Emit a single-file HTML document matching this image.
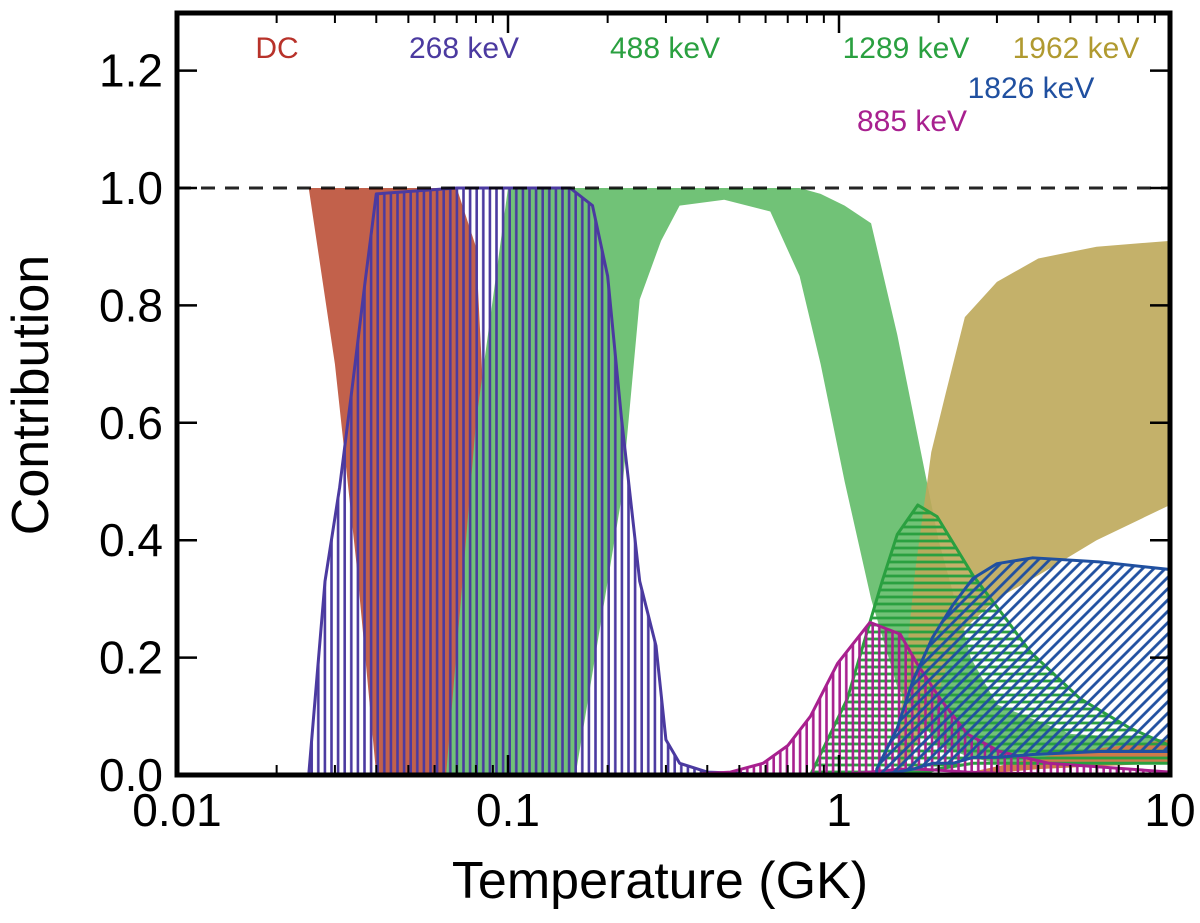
<!DOCTYPE html>
<html><head><meta charset="utf-8"><style>
html,body{margin:0;padding:0;background:#fff;}
svg{display:block;font-family:"Liberation Sans",sans-serif;}
</style></head><body>
<svg id="chart" width="1200" height="923" viewBox="0 0 1200 923">
<defs>
<pattern id="vPurple" patternUnits="userSpaceOnUse" width="6.6" height="10"><line x1="1.5" y1="0" x2="1.5" y2="10" stroke="#4b3aa0" stroke-width="2.6"/></pattern>
<pattern id="vMag" patternUnits="userSpaceOnUse" width="6.6" height="10"><line x1="1.5" y1="0" x2="1.5" y2="10" stroke="#a8208f" stroke-width="2.6"/></pattern>
<pattern id="hGreen" patternUnits="userSpaceOnUse" width="10" height="7"><line x1="0" y1="2" x2="10" y2="2" stroke="#2aa040" stroke-width="2.8"/></pattern>
<pattern id="dBlue" patternUnits="userSpaceOnUse" width="8" height="8" patternTransform="rotate(45)"><line x1="2" y1="0" x2="2" y2="8" stroke="#2050a0" stroke-width="2.8"/></pattern>
</defs>
<g id="marks"></g>
<g id="axes"></g>
</svg>
<script>
// Data arrays (temperature in GK, contribution lower/upper bounds)
const dcT = [0.01, 0.025, 0.03, 0.035, 0.04, 0.07, 0.08, 0.085, 0.09, 0.095];
const dcLo = [1, 1, 0.7, 0.35, 0.0, 0.0, 0.0, 0.0, 0.0, 0.0];
const dcHi = [1, 1, 1, 1, 1, 1, 0.9, 0.6, 0.3, 0.0];

const g488T = [0.065, 0.08, 0.1, 0.16, 0.22, 0.25, 0.29, 0.33, 0.45, 0.62, 0.76, 0.88, 1.04, 1.25, 1.5, 2.0, 2.5, 3.0, 5.0, 10];
const g488Lo = [0, 0, 0, 0, 0.47, 0.81, 0.91, 0.97, 0.98, 0.96, 0.85, 0.7, 0.5, 0.3, 0.15, 0.05, 0.03, 0.02, 0.02, 0.02];
const g488Hi = [0, 0.6, 1, 1, 1, 1, 1, 1, 1, 1, 1, 0.99, 0.97, 0.94, 0.75, 0.4, 0.2, 0.12, 0.07, 0.06];

const p268T = [0.022, 0.025, 0.028, 0.031, 0.034, 0.037, 0.04, 0.07, 0.154, 0.18, 0.2, 0.22, 0.25, 0.28, 0.3, 0.33, 0.4, 0.5, 0.6];
const p268Hi = [0.0, 0.0, 0.33, 0.49, 0.67, 0.84, 0.99, 1.0, 1.0, 0.97, 0.85, 0.61, 0.33, 0.22, 0.06, 0.02, 0.005, 0.003, 0.0];
const p268Lo = [0, 0, 0, 0, 0, 0, 0, 0, 0, 0, 0, 0, 0, 0, 0, 0, 0, 0, 0];

const goldT = [1.5, 1.7, 1.9, 2.1, 2.4, 3.0, 4.0, 6.0, 10];
const goldLo = [0.0, 0.05, 0.1, 0.18, 0.25, 0.3, 0.34, 0.4, 0.46];
const goldHi = [0.05, 0.35, 0.55, 0.65, 0.78, 0.84, 0.88, 0.9, 0.91];

const g1289T = [0.82, 1.06, 1.27, 1.35, 1.5, 1.73, 1.98, 2.54, 3.06, 3.78, 5.35, 7.56, 10];
const g1289Hi = [0.0, 0.13, 0.28, 0.33, 0.41, 0.46, 0.44, 0.34, 0.28, 0.21, 0.13, 0.08, 0.05];
const g1289Lo = [0, 0, 0, 0, 0, 0, 0.01, 0.02, 0.02, 0.02, 0.02, 0.02, 0.02];

const m885T = [0.38, 0.47, 0.59, 0.7, 0.82, 0.99, 1.24, 1.53, 1.72, 2.02, 2.44, 3.06, 4.3, 10];
const m885Hi = [0.002, 0.005, 0.02, 0.05, 0.1, 0.19, 0.26, 0.24, 0.19, 0.13, 0.07, 0.04, 0.02, 0.005];
const m885Lo = [0, 0, 0, 0, 0, 0, 0.005, 0.01, 0.01, 0.008, 0.005, 0.003, 0.002, 0];

const b1826T = [1.3, 1.5, 1.67, 1.92, 2.21, 2.54, 3.0, 3.85, 6.1, 10];
const b1826Hi = [0.01, 0.08, 0.16, 0.235, 0.29, 0.335, 0.36, 0.37, 0.363, 0.35];
const b1826Lo = [0, 0.005, 0.01, 0.02, 0.02, 0.03, 0.03, 0.035, 0.04, 0.04];

const orT = [2.5, 4, 6, 10];
const orLo = [0.0, 0.01, 0.015, 0.02];
const orHi = [0.005, 0.03, 0.045, 0.06];

const yTicks = [0, 0.2, 0.4, 0.6, 0.8, 1.0, 1.2];
const yTickLabels = ["0.0", "0.2", "0.4", "0.6", "0.8", "1.0", "1.2"];
const xTicks = [0.01, 0.1, 1, 10];
const xTickLabels = ["0.01", "0.1", "1", "10"];

const L = 177, R = 1170, T0 = 13, B = 775;
function xs(t) { return L + (R - L) * (Math.log10(t) + 2) / 3; }
function ys(v) { return B - 587 * v; }

const NS = "http://www.w3.org/2000/svg";
const marks = document.getElementById('marks');
const axes = document.getElementById('axes');

function band(ts, lo, hi, fill, stroke, name) {
  let pts = [];
  for (let i = 0; i < ts.length; i++) pts.push(xs(ts[i]) + ',' + ys(hi[i]));
  for (let i = ts.length - 1; i >= 0; i--) pts.push(xs(ts[i]) + ',' + ys(lo[i]));
  const p = document.createElementNS(NS, 'polygon');
  p.setAttribute('points', pts.join(' '));
  p.setAttribute('fill', fill);
  if (stroke) { p.setAttribute('stroke', stroke); p.setAttribute('stroke-width', '3'); p.setAttribute('stroke-linejoin', 'round'); }
  
  
  marks.appendChild(p);
}

band(dcT, dcLo, dcHi, '#c2614b', null, 'dc-band');
band(g488T, g488Lo, g488Hi, '#71c277', null, 'band-488kev');
band(p268T, p268Lo, p268Hi, 'url(#vPurple)', '#4b3aa0', 'band-268kev');
band(goldT, goldLo, goldHi, 'rgba(190,168,90,0.9)', null, 'band-1962kev');
band(orT, orLo, orHi, '#d07a4a', null, 'band-minor-orange');
band(g1289T, g1289Lo, g1289Hi, 'url(#hGreen)', '#2aa040', 'band-1289kev');
band(m885T, m885Lo, m885Hi, 'url(#vMag)', '#a8208f', 'band-885kev');
band(b1826T, b1826Lo, b1826Hi, 'url(#dBlue)', '#2050a0', 'band-1826kev');

function mk(tag, attrs, parent) {
  const e = document.createElementNS(NS, tag);
  for (const k in attrs) e.setAttribute(k, attrs[k]);
  parent.appendChild(e);
  return e;
}
const dl = mk('line', {x1: L, y1: ys(1), x2: R, y2: ys(1), stroke: '#000', 'stroke-width': 3, 'stroke-dasharray': '14,10', opacity: 0.85}, axes);



const fr = mk('rect', {x: L, y: T0, width: R - L, height: B - T0, fill: 'none', stroke: '#000', 'stroke-width': 5}, axes);



for (let i = 0; i < yTicks.length; i++) {
  const y = ys(yTicks[i]);
  mk('line', {x1: L, y1: y, x2: L + 20, y2: y, stroke: '#000', 'stroke-width': 2.5}, axes);
  mk('line', {x1: R - 20, y1: y, x2: R, y2: y, stroke: '#000', 'stroke-width': 2.5}, axes);
  const t = mk('text', {x: 163, y: y + 16, 'text-anchor': 'end', 'font-size': 46, fill: '#000'}, axes);
  t.textContent = yTickLabels[i];
  
  
}
for (let d = 0.01; d < 10; d *= 10) {
  for (let m = 2; m <= 9; m++) {
    const x = xs(d * m);
    mk('line', {x1: x, y1: B, x2: x, y2: B - 10, stroke: '#000', 'stroke-width': 2}, axes);
    mk('line', {x1: x, y1: T0, x2: x, y2: T0 + 10, stroke: '#000', 'stroke-width': 2}, axes);
  }
}
for (let i = 0; i < xTicks.length; i++) {
  const x = xs(xTicks[i]);
  mk('line', {x1: x, y1: B, x2: x, y2: B - 20, stroke: '#000', 'stroke-width': 2.5}, axes);
  mk('line', {x1: x, y1: T0, x2: x, y2: T0 + 20, stroke: '#000', 'stroke-width': 2.5}, axes);
  const t = mk('text', {x: x, y: 826, 'text-anchor': 'middle', 'font-size': 46, fill: '#000'}, axes);
  t.textContent = xTickLabels[i];
  
  
}
const xt = mk('text', {x: 660, y: 898, 'text-anchor': 'middle', 'font-size': 52, fill: '#000'}, axes);
xt.textContent = 'Temperature (GK)';


const yt = mk('text', {x: 0, y: 0, 'text-anchor': 'middle', 'font-size': 52, fill: '#000', transform: 'translate(48,395) rotate(-90)'}, axes);
yt.textContent = 'Contribution';



const labels = [
  ['DC', 277, 58, '#b8322a', 'label-dc'],
  ['268 keV', 464, 58, '#4b3aa0', 'label-268kev'],
  ['488 keV', 665, 58, '#2aa040', 'label-488kev'],
  ['1289 keV', 906, 58, '#2aa040', 'label-1289kev'],
  ['1962 keV', 1076, 58, '#b09a30', 'label-1962kev'],
  ['1826 keV', 1031, 98, '#2050a0', 'label-1826kev'],
  ['885 keV', 912, 131, '#a8208f', 'label-885kev']
];
for (const l of labels) {
  const t = mk('text', {x: l[1], y: l[2], 'text-anchor': 'middle', 'font-size': 30, fill: l[3]}, axes);
  t.textContent = l[0];
  
  
}
</script>
</body></html>
